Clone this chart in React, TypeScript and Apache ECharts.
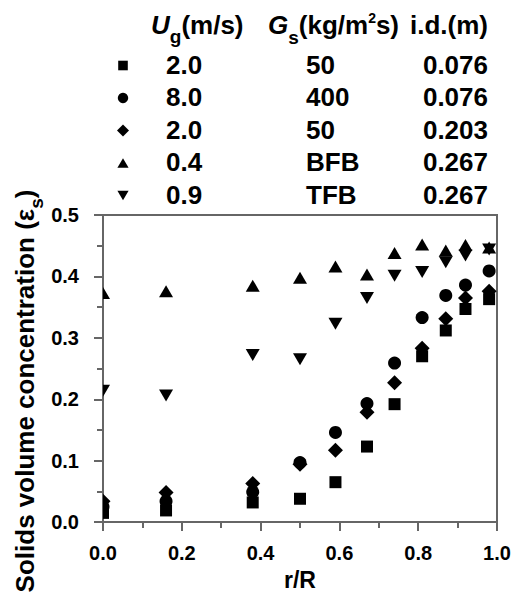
import React, { useEffect, useRef } from 'react';
import * as echarts from 'echarts';

// r/R positions of the measurements
const rRatio = [0.0, 0.16, 0.38, 0.5, 0.59, 0.67, 0.74, 0.81, 0.87, 0.92, 0.98];

// Solids volume concentration for each data set
const squareUg2Gs50 = [0.015, 0.019, 0.032, 0.038, 0.065, 0.123, 0.192, 0.27, 0.312, 0.347, 0.363];
const circleUg8Gs400 = [0.025, 0.034, 0.049, 0.097, 0.146, 0.193, 0.259, 0.333, 0.369, 0.386, 0.409];
const diamondUg2Gs50 = [0.034, 0.048, 0.063, 0.094, 0.117, 0.179, 0.227, 0.283, 0.331, 0.365, 0.376];
const triangleBFB = [0.373, 0.376, 0.385, 0.398, 0.416, 0.403, 0.438, 0.452, 0.442, 0.451, 0.447];
const invTriangleTFB = [0.214, 0.206, 0.272, 0.265, 0.323, 0.365, 0.401, 0.407, 0.423, 0.434, 0.444];

// Legend table
const legendUg = ['2.0', '8.0', '2.0', '0.4', '0.9'];
const legendGs = ['50', '400', '50', 'BFB', 'TFB'];
const legendId = ['0.076', '0.076', '0.203', '0.267', '0.267'];
const legendShapes = ['square', 'circle', 'diamond', 'up', 'down'];

// Axis settings
const xMin = 0;
const xMax = 1.0;
const xInterval = 0.2;
const yMin = 0;
const yMax = 0.5;
const yInterval = 0.1;

const FF = '"Liberation Sans", Arial, Helvetica, sans-serif';
const AXIS_COLOR = '#666';

function markerShape(shape: string, cx: number, cy: number, scale: number, fill: string) {
  const style = { fill };
  switch (shape) {
    case 'square': {
      const h = 6 * scale;
      return { type: 'rect', shape: { x: cx - h, y: cy - h, width: 2 * h, height: 2 * h }, style };
    }
    case 'circle':
      return { type: 'circle', shape: { cx, cy, r: 6.5 * scale }, style };
    case 'diamond': {
      const h = 7.5 * scale;
      return { type: 'polygon', shape: { points: [[cx, cy - h], [cx + h, cy], [cx, cy + h], [cx - h, cy]] }, style };
    }
    case 'up': {
      const w = 7 * scale, h = 6 * scale;
      return { type: 'polygon', shape: { points: [[cx, cy - h], [cx + w, cy + h], [cx - w, cy + h]] }, style };
    }
    default: {
      const w = 7 * scale, h = 6 * scale;
      return { type: 'polygon', shape: { points: [[cx - w, cy - h], [cx + w, cy - h], [cx, cy + h]] }, style };
    }
  }
}

function makeSeries(name: string, values: number[], shape: string) {
  return {
    type: 'custom',
    name,
    clip: true,
    coordinateSystem: 'cartesian2d',
    encode: { x: 0, y: 1 },
    data: rRatio.map((r, i) => [r, values[i]]),
    renderItem: (_params: any, api: any) => {
      const p = api.coord([api.value(0), api.value(1)]);
      return markerShape(shape, p[0], p[1], 1, '#000');
    },
    z: 3,
  };
}

export default function App() {
  const ref = useRef<HTMLDivElement>(null);

  useEffect(() => {
    const chart = echarts.init(ref.current!, null, { renderer: 'svg' });

    const main = { fontFamily: FF, fontWeight: 'bold', fontSize: 26, lineHeight: 30, fill: '#000' };
    const graphics: any[] = [];

    // Header
    graphics.push({
      type: 'text',
      x: 151,
      y: 25,
      style: {
        text: '{i|U}{sub|g}{m|(m/s)}',
        align: 'left', verticalAlign: 'middle', textAlign: 'left', textVerticalAlign: 'middle',
        rich: {
          i: { ...main, fontStyle: 'italic' },
          sub: { ...main, fontSize: 19, padding: [22, 0, 0, 0] },
          m: { ...main },
        },
      },
    });
    graphics.push({
      type: 'text',
      x: 268,
      y: 25,
      style: {
        text: '{i|G}{sub|s}{m|(kg/m}{sup|2}{m|s)}',
        align: 'left', verticalAlign: 'middle', textAlign: 'left', textVerticalAlign: 'middle',
        rich: {
          i: { ...main, fontStyle: 'italic' },
          sub: { ...main, fontSize: 19, padding: [24, 0, 0, 0] },
          sup: { ...main, fontSize: 14, padding: [0, 0, 14, 0] },
          m: { ...main },
        },
      },
    });
    graphics.push({
      type: 'text',
      x: 488,
      y: 25,
      style: {
        text: 'i.d.(m)',
        font: `bold 26px ${FF}`,
        fill: '#000',
        align: 'right', verticalAlign: 'middle', textAlign: 'right', textVerticalAlign: 'middle',
      },
    });

    // Legend rows
    const rowY = [64.5, 97, 129.5, 162, 194.5];
    legendShapes.forEach((shape, i) => {
      const m: any = markerShape(shape, 123, rowY[i] + 1, 0.8, '#000');
      graphics.push(m);
      const common = {
        font: `bold 26px ${FF}`,
        fill: '#000',
        verticalAlign: 'middle',
        textVerticalAlign: 'middle',
      };
      graphics.push({ type: 'text', x: 166, y: rowY[i], style: { ...common, text: legendUg[i], align: 'left', textAlign: 'left' } });
      graphics.push({ type: 'text', x: 306, y: rowY[i], style: { ...common, text: legendGs[i], align: 'left', textAlign: 'left' } });
      graphics.push({ type: 'text', x: 488, y: rowY[i], style: { ...common, text: legendId[i], align: 'right', textAlign: 'right' } });
    });

    // Y axis title (rotated)
    const ym = { fontFamily: FF, fontWeight: 'bold', fontSize: 26, lineHeight: 30, fill: '#000' };
    graphics.push({
      type: 'text',
      x: 25,
      y: 391,
      rotation: Math.PI / 2,
      style: {
        text: '{m|Solids volume concentration (ε}{sub|s}{m|)}',
        align: 'center', verticalAlign: 'middle', textAlign: 'center', textVerticalAlign: 'middle',
        rich: {
          m: { ...ym },
          sub: { ...ym, fontSize: 19, padding: [22, 0, 0, 0] },
        },
      },
    });

    const axisLabelStyle = { fontFamily: FF, fontWeight: 'bold' as const, fontSize: 20, color: '#000' };

    const option: any = {
      animation: false,
      backgroundColor: '#fff',
      grid: {
        left: 103,
        top: 215,
        width: 394,
        height: 315,
        show: true,
        borderColor: AXIS_COLOR,
        borderWidth: 2,
        backgroundColor: 'transparent',
      },
      xAxis: {
        type: 'value',
        min: xMin,
        max: xMax,
        interval: xInterval,
        axisLine: { show: true, onZero: false, lineStyle: { color: AXIS_COLOR, width: 2 } },
        axisTick: { show: true, inside: false, length: 9, lineStyle: { color: AXIS_COLOR, width: 2 } },
        minorTick: { show: true, splitNumber: 2, length: 6, lineStyle: { color: AXIS_COLOR, width: 2 } },
        splitLine: { show: false },
        minorSplitLine: { show: false },
        axisLabel: {
          ...axisLabelStyle,
          margin: 21,
          showMinLabel: true,
          showMaxLabel: true,
          formatter: (v: number) => v.toFixed(1),
        },
        name: 'r/R',
        nameLocation: 'middle',
        nameGap: 45,
        nameTextStyle: { fontFamily: FF, fontWeight: 'bold', fontSize: 23, color: '#000' },
      },
      yAxis: {
        type: 'value',
        min: yMin,
        max: yMax,
        interval: yInterval,
        axisLine: { show: true, onZero: false, lineStyle: { color: AXIS_COLOR, width: 2 } },
        axisTick: { show: true, inside: false, length: 9, lineStyle: { color: AXIS_COLOR, width: 2 } },
        minorTick: { show: true, splitNumber: 2, length: 6, lineStyle: { color: AXIS_COLOR, width: 2 } },
        splitLine: { show: false },
        minorSplitLine: { show: false },
        axisLabel: {
          ...axisLabelStyle,
          margin: 24,
          showMinLabel: true,
          showMaxLabel: true,
          formatter: (v: number) => v.toFixed(1),
        },
      },
      graphic: { elements: graphics },
      series: [
        makeSeries('Ug 2.0, Gs 50, i.d. 0.076', squareUg2Gs50, 'square'),
        makeSeries('Ug 8.0, Gs 400, i.d. 0.076', circleUg8Gs400, 'circle'),
        makeSeries('Ug 2.0, Gs 50, i.d. 0.203', diamondUg2Gs50, 'diamond'),
        makeSeries('Ug 0.4, BFB, i.d. 0.267', triangleBFB, 'up'),
        makeSeries('Ug 0.9, TFB, i.d. 0.267', invTriangleTFB, 'down'),
      ],
    };

    chart.setOption(option);
    return () => chart.dispose();
  }, []);

  return (
    <div
      ref={ref}
      style={{ position: 'fixed', left: 0, top: 0, width: 521, height: 596, background: '#fff' }}
    />
  );
}
